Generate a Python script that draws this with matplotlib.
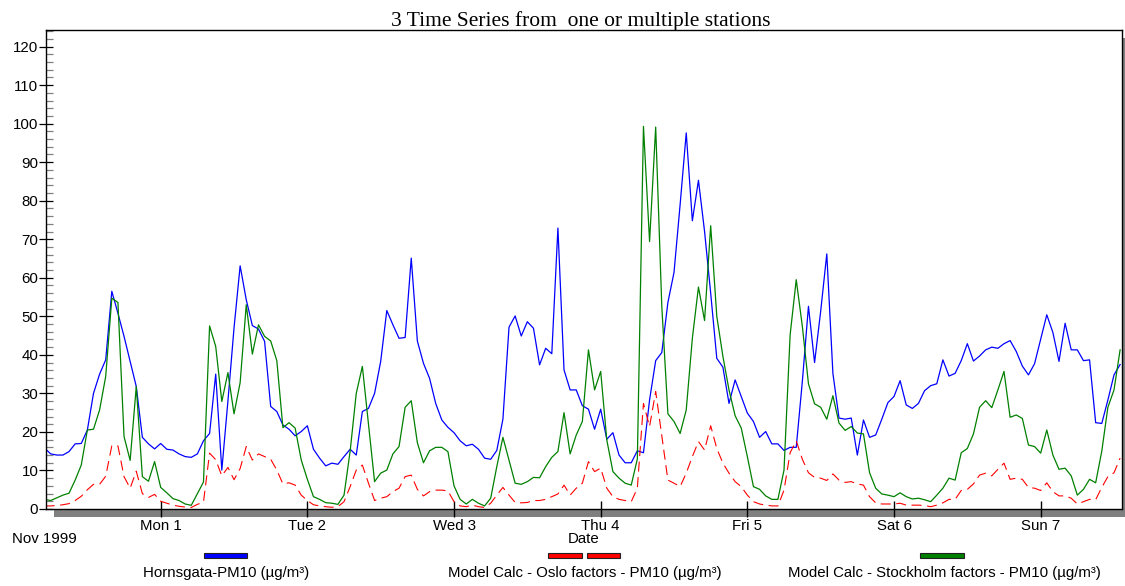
import numpy as np
import matplotlib
matplotlib.use("Agg")
import matplotlib.pyplot as plt
from matplotlib.patches import Rectangle
from matplotlib.ticker import MultipleLocator

# hourly values, first value at Oct 31 1999 05:00 (hours counted from Oct 31 00:00)
first_hour = 5

hornsgata = [
    15.8, 14.3, 14.0, 14.0, 14.9, 16.9, 17.0, 20.5, 30.0, 35.0, 38.7, 56.5,
    50.8, 44.8, 38.3, 31.8, 18.6, 16.9, 15.6, 17.0, 15.5, 15.3, 14.3, 13.6,
    13.4, 14.3, 17.7, 19.6, 35.0, 10.1, 28.0, 47.0, 63.1, 54.3, 47.6, 46.7,
    43.5, 26.6, 25.3, 21.8, 20.7, 19.0, 20.1, 21.6, 15.5, 13.2, 11.2, 11.9,
    11.6, 13.6, 15.5, 14.0, 25.3, 26.1, 30.0, 38.3, 51.5, 47.8, 44.3, 44.5,
    65.1, 43.6, 37.8, 33.9, 27.4, 23.1, 21.2, 19.8, 17.7, 16.4, 16.8, 15.5,
    13.2, 12.9, 15.2, 23.3, 47.2, 50.1, 44.9, 48.6, 46.9, 37.4, 41.7, 40.3,
    72.9, 36.1, 30.9, 30.9, 26.8, 25.9, 20.7, 25.9, 18.1, 19.8, 14.0, 12.0,
    12.0, 15.1, 14.6, 28.3, 38.5, 40.6, 53.6, 61.4, 79.0, 97.6, 74.8, 85.3,
    72.0, 56.0, 39.1, 36.8, 27.4, 33.5, 29.2, 24.9, 22.7, 18.6, 20.1, 16.9,
    16.9, 15.2, 16.0, 16.0, 33.1, 52.6, 38.0, 51.3, 66.2, 35.2, 23.6, 23.3,
    23.6, 14.0, 23.1, 18.6, 19.2, 23.3, 27.6, 29.2, 33.3, 27.0, 26.1, 27.4,
    30.7, 32.0, 32.5, 38.7, 34.5, 35.2, 38.5, 42.9, 38.4, 39.7, 41.3, 42.0,
    41.7, 42.9, 43.7, 40.9, 37.1, 34.8, 37.7, 44.1, 50.4, 45.8, 38.3, 48.2,
    41.3, 41.3, 38.5, 38.7, 22.4, 22.2, 28.3, 34.8, 37.5,
]

oslo = [
    0.8, 0.8, 0.9, 1.1, 1.4, 2.2, 3.3, 5.0, 6.4, 6.4, 8.5, 16.4,
    16.4, 8.4, 5.4, 9.8, 4.0, 3.0, 3.8, 2.0, 1.5, 1.0, 0.7, 0.5,
    0.4, 1.2, 1.8, 14.5, 12.8, 8.6, 10.8, 7.6, 10.5, 16.2, 12.7, 14.3,
    13.6, 12.9, 10.1, 6.5, 6.8, 6.2, 3.6, 2.2, 1.1, 0.8, 0.6, 0.45,
    0.6, 1.9, 5.8, 10.1, 11.4, 6.7, 2.2, 2.8, 3.2, 4.5, 5.4, 8.4,
    8.8, 5.1, 3.4, 4.5, 4.9, 4.9, 4.7, 1.9, 0.8, 0.6, 1.0, 0.6,
    0.4, 1.5, 3.6, 5.6, 3.6, 1.7, 1.6, 1.7, 2.2, 2.2, 2.5, 3.2,
    3.9, 6.2, 3.6, 5.4, 6.7, 12.3, 9.7, 10.6, 5.4, 3.2, 2.5, 2.2,
    1.9, 5.4, 27.4, 21.4, 30.5, 19.0, 7.5, 6.7, 5.8, 9.3, 13.6, 17.5,
    15.3, 21.6, 15.7, 11.9, 9.3, 7.1, 5.8, 3.6, 1.9, 1.3, 1.0, 0.8,
    0.8, 4.9, 14.6, 17.7, 12.9, 9.4, 8.2, 8.0, 7.4, 9.1, 7.5, 6.9,
    7.1, 6.5, 6.2, 3.2, 1.6, 1.3, 1.3, 1.3, 1.5, 1.0, 1.0, 1.0,
    0.9, 0.6, 1.0, 1.6, 2.5, 2.5, 4.8, 5.1, 6.5, 8.8, 9.3, 8.6,
    10.3, 11.9, 7.7, 8.0, 7.7, 5.6, 5.4, 4.8, 6.8, 4.5, 3.4, 3.4,
    2.8, 1.3, 1.9, 2.5, 2.4, 5.6, 8.4, 9.4, 13.2,
]

stockholm = [
    2.5, 2.2, 2.9, 3.6, 4.1, 7.5, 11.4, 20.5, 20.7, 25.7, 34.4, 54.7,
    53.6, 18.8, 12.6, 31.8, 8.4, 7.2, 12.3, 5.6, 4.2, 2.7, 2.2, 1.3,
    0.95, 4.0, 7.0, 47.5, 42.2, 27.9, 35.4, 24.7, 32.8, 53.0, 40.2, 47.8,
    44.8, 43.6, 38.5, 21.1, 22.4, 21.0, 12.7, 7.7, 3.2, 2.5, 1.65, 1.5,
    1.2, 3.6, 15.0, 30.0, 37.0, 22.0, 7.1, 9.3, 10.1, 14.3, 16.2, 26.4,
    28.1, 17.2, 12.0, 15.1, 16.0, 16.0, 14.9, 6.0, 2.5, 1.3, 2.5, 1.5,
    0.8, 2.8, 11.0, 18.6, 12.7, 6.7, 6.4, 7.1, 8.2, 8.1, 11.0, 13.4,
    14.9, 25.0, 14.3, 19.2, 22.7, 41.3, 30.9, 35.7, 17.9, 9.7, 8.0, 6.7,
    6.2, 13.0, 99.3, 69.4, 99.1, 52.6, 24.7, 22.7, 19.6, 25.7, 44.3, 57.6,
    48.9, 73.5, 50.0, 39.6, 30.9, 24.2, 21.0, 13.6, 5.8, 5.1, 3.4, 2.5,
    2.5, 10.1, 45.2, 59.5, 47.4, 32.5, 27.3, 26.4, 23.3, 29.4, 22.3, 20.4,
    21.4, 19.7, 19.5, 9.4, 5.4, 3.9, 3.6, 3.2, 4.2, 3.2, 2.6, 2.8,
    2.4, 1.9, 3.6, 5.4, 8.0, 7.5, 14.6, 15.7, 19.5, 26.4, 28.1, 26.3,
    30.9, 35.7, 23.8, 24.4, 23.5, 16.6, 16.2, 14.5, 20.5, 14.0, 10.3, 10.6,
    8.6, 3.6, 5.1, 7.7, 6.8, 15.0, 26.4, 30.9, 41.3,
]

day_hours = [24, 48, 72, 96, 120, 144, 168]
day_labels = ["Mon 1", "Tue 2", "Wed 3", "Thu 4", "Fri 5", "Sat 6", "Sun 7"]
series_labels = ["Hornsgata-PM10 (\u00b5g/m\u00b3)",
                 "Model Calc - Oslo factors - PM10 (\u00b5g/m\u00b3)",
                 "Model Calc - Stockholm factors - PM10 (\u00b5g/m\u00b3)"]
title = "3 Time Series from  one or multiple stations"

hours = first_hour + np.arange(len(hornsgata))

W, H = 1125, 586
plt.rcParams["font.family"] = ["Liberation Sans", "DejaVu Sans"]
fig = plt.figure(figsize=(W / 100, H / 100), dpi=100)

def fx(px):
    return px / W

def fy(py):
    return 1 - py / H

# drop shadow behind the plot frame
fig.patches.append(Rectangle((fx(54), fy(517)), fx(1130 - 54), (517 - 38) / H,
                             transform=fig.transFigure, facecolor="#808080",
                             edgecolor="none", zorder=-5))

ax = fig.add_axes([fx(46), fy(509), fx(1121.7 - 46), (509 - 30) / H])
ax.set_facecolor("white")

ax.plot(hours, hornsgata, color="#0000ff", lw=0.9)
ax.plot(hours, oslo, color="#ff0000", lw=0.8, dashes=(9, 5))
ax.plot(hours, stockholm, color="#008000", lw=0.9)

ax.set_xlim(5.23, 181.26)
ax.set_ylim(0, 124.3)

ax.set_yticks(range(0, 121, 10))
ax.yaxis.set_minor_locator(MultipleLocator(2))
ax.tick_params(axis="y", which="major", direction="inout", length=10, width=0.9,
               pad=0.5, labelsize=10.8)
ax.tick_params(axis="y", which="minor", direction="in", length=5, width=0.9,
               color="#808080")
ax.set_xticks(day_hours)
ax.set_xticklabels(day_labels)
ax.tick_params(axis="x", which="major", direction="inout", length=11.5, width=1.0,
               pad=1.5, labelsize=10.8)
for sp in ax.spines.values():
    sp.set_linewidth(1.0)
    sp.set_color("black")

fig.text(fx(580.5), fy(26), title, family="Liberation Serif", fontsize=15.5,
         ha="center", va="baseline")
fig.text(fx(12), fy(539), "Nov 1999", fontsize=10.8, ha="left", va="center")
fig.text(fx(584), fy(539), "Date", fontsize=10.8, ha="center", va="center")

# legend: coloured bars with labels underneath
bar_y0, bar_h = 553, 4.5
legend_bars = [
    ("#0000ff", [(204, 247)]),
    ("#ff0000", [(548, 582), (587, 620)]),
    ("#008000", [(920, 964)]),
]
label_x = [226.5, 585, 944]
for (col, spans), lab, lx in zip(legend_bars, series_labels, label_x):
    for x0, x1 in spans:
        fig.patches.append(Rectangle((fx(x0), fy(bar_y0 + bar_h)), fx(x1 - x0), bar_h / H,
                                     transform=fig.transFigure, facecolor=col,
                                     edgecolor="#202020", lw=0.8))
    fig.text(fx(lx), fy(572.7), lab, fontsize=10.8, ha="center", va="center")

fig.savefig("out.png", dpi=100)
